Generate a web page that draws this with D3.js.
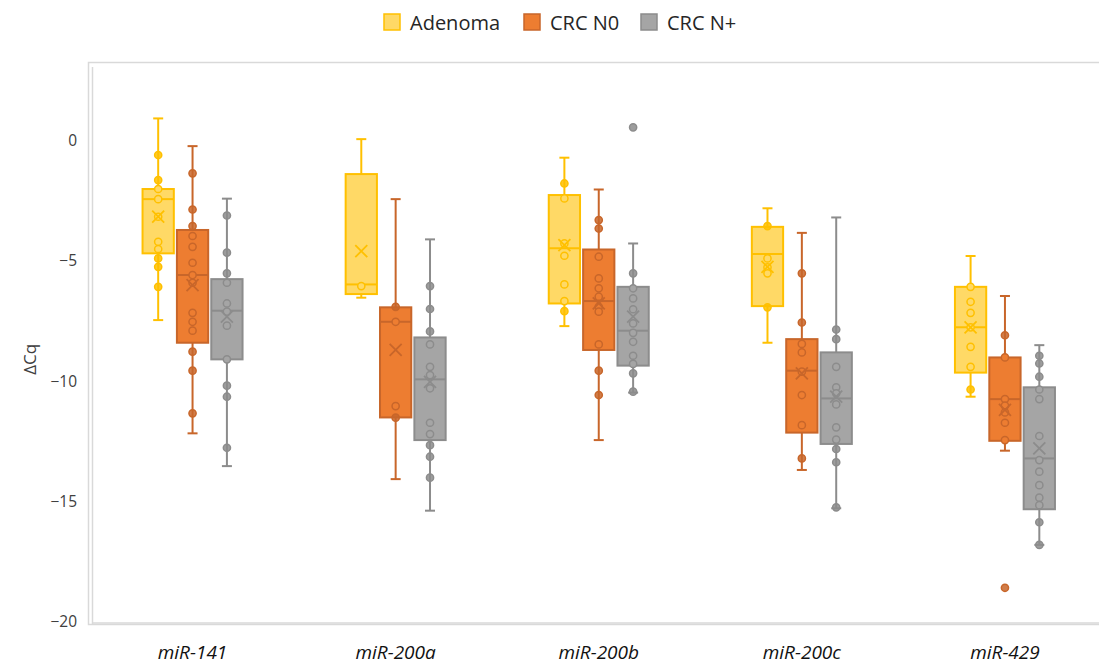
<!DOCTYPE html>
<html>
<head>
<meta charset="utf-8">
<script src="https://cdn.jsdelivr.net/npm/d3@7"></script>
<style>
  body { margin: 0; background: #fff; }
  svg { display: block; font-family: "Open Sans", "DejaVu Sans", sans-serif; }
</style>
</head>
<body>
<div id="chart"></div>
<script>
// Categories and series
const categories = ["miR-141", "miR-200a", "miR-200b", "miR-200c", "miR-429"];
const seriesNames = ["Adenoma", "CRC N0", "CRC N+"];
const yTicks = [0, -5, -10, -15, -20];

// Box stats per category: [whiskerLow, q1, median, q3, whiskerHigh, mean]
const adenomaStats = [
  [-7.47, -4.7, -2.45, -2.03, 0.9, -3.18],
  [-6.54, -6.39, -5.99, -1.41, 0.04, -4.61],
  [-7.72, -6.78, -4.49, -2.28, -0.73, -4.36],
  [-8.41, -6.89, -4.73, -3.6, -2.83, -5.26],
  [-10.65, -9.65, -7.77, -6.09, -4.81, -7.77]
];
const n0Stats = [
  [-12.17, -8.41, -5.6, -3.73, -0.25, -6.02],
  [-14.07, -11.51, -7.54, -6.94, -2.45, -8.71],
  [-12.45, -8.71, -6.68, -4.54, -2.05, -6.78],
  [-13.69, -12.14, -9.57, -8.26, -3.85, -9.68],
  [-12.89, -12.48, -10.75, -9.02, -6.47, -11.2]
];
const nPlusStats = [
  [-13.53, -9.1, -7.08, -5.77, -2.43, -7.33],
  [-15.38, -12.45, -9.93, -8.19, -4.12, -10.03],
  [-10.48, -9.36, -7.91, -6.09, -4.29, -7.33],
  [-15.28, -12.61, -10.72, -8.81, -3.21, -10.65],
  [-16.8, -15.32, -13.21, -10.26, -8.51, -12.79]
];

// Individual points per category (inner points + outliers)
const adenomaPoints = [
  [-0.62, -1.66, -2.03, -2.45, -3.18, -4.22, -4.52, -4.91, -5.26, -6.09],
  [-6.06],
  [-1.8, -2.42, -4.29, -4.8, -5.99, -6.68, -7.1],
  [-3.57, -4.91, -5.28, -5.53, -6.94],
  [-6.09, -6.71, -7.17, -7.77, -8.58, -9.41, -10.35]
];
const n0Points = [
  [-1.38, -2.88, -3.57, -3.98, -4.43, -5.09, -5.6, -5.92, -7.17, -7.54, -7.91, -8.78, -9.57, -11.34],
  [-6.92, -7.54, -11.04, -11.52],
  [-3.32, -3.67, -4.84, -5.74, -6.15, -6.5, -6.92, -7.12, -8.48, -9.57, -10.58],
  [-5.53, -7.57, -8.46, -8.81, -9.61, -10.58, -11.83, -13.21],
  [-8.1, -9.02, -10.75, -11.02, -11.3, -11.73, -12.45, -18.58]
];
const nPlusPoints = [
  [-3.13, -4.67, -5.53, -5.92, -6.78, -7.12, -7.7, -9.1, -10.19, -10.65, -12.77],
  [-6.06, -7.01, -7.94, -8.48, -9.41, -9.75, -10.3, -11.73, -12.2, -12.66, -13.14, -14.01],
  [0.53, -5.53, -6.15, -6.57, -7.02, -7.61, -8.0, -8.37, -8.95, -9.29, -9.68, -10.44],
  [-7.86, -8.26, -9.41, -10.26, -10.51, -10.97, -11.92, -12.43, -12.82, -13.37, -15.24],
  [-8.95, -9.27, -9.82, -10.35, -10.75, -12.28, -13.28, -13.76, -14.32, -14.84, -15.15, -15.86, -16.8]
];

const fills = ["#FFD966", "#ED7D31", "#A5A5A5"];
const strokes = ["#FFC000", "#C8662A", "#8C8C8C"];

const width = 1099, height = 666;
const plotLeft = 91, plotTop = 63, plotBottom = 623;
const step = 203.1;

const svg = d3.select("#chart").append("svg")
  .attr("width", width).attr("height", height)
  .attr("viewBox", [0, 0, width, height]);

const x = d3.scaleBand(categories, [plotLeft, plotLeft + step * categories.length]);
const xs = d3.scaleBand(seriesNames, [-50, 50]).paddingInner(0.09);
const y = d3.scaleLinear([-20, 3.2], [622, plotTop]);

// plot area frame
svg.append("rect")
  .attr("x", plotLeft - 2.5).attr("y", plotTop - 0.5)
  .attr("width", step * 5 + 10).attr("height", plotBottom - plotTop + 2)
  .attr("fill", "none").attr("stroke", "#d9d9d9").attr("stroke-width", 1.5);
svg.append("line")
  .attr("x1", plotLeft + 1.5).attr("x2", plotLeft + 1.5)
  .attr("y1", plotTop + 4).attr("y2", plotBottom + 1)
  .attr("stroke", "#d9d9d9").attr("stroke-width", 1.5);
svg.append("line")
  .attr("x1", plotLeft + 1.5).attr("x2", width)
  .attr("y1", plotBottom).attr("y2", plotBottom)
  .attr("stroke", "#d9d9d9").attr("stroke-width", 1.5);

// y axis
svg.append("g")
  .attr("transform", `translate(${plotLeft - 1},0)`)
  .call(d3.axisLeft(y).tickValues(yTicks).tickSize(0).tickPadding(13))
  .call(g => g.select(".domain").remove())
  .call(g => g.selectAll("text")
    .attr("font-size", 15.5).attr("fill", "#404040")
    .attr("font-family", "'Open Sans', sans-serif"));

svg.append("text")
  .attr("transform", `translate(36,${y(-9.1)}) rotate(-90)`)
  .attr("text-anchor", "middle")
  .attr("font-size", 17).attr("fill", "#404040")
  .text("ΔCq");

// x labels
svg.append("g")
  .selectAll("text")
  .data(categories)
  .join("text")
  .attr("x", d => x(d) + x.bandwidth() / 2)
  .attr("y", 659)
  .attr("text-anchor", "middle")
  .attr("font-size", 19)
  .attr("font-style", "italic")
  .attr("font-family", "'Open Sans', sans-serif")
  .attr("fill", "#111")
  .text(d => d);

const allStats = [adenomaStats, n0Stats, nPlusStats];
const allPoints = [adenomaPoints, n0Points, nPlusPoints];
const bw = xs.bandwidth();

seriesNames.forEach((s, si) => {
  const g = svg.append("g");
  categories.forEach((c, ci) => {
    const [lo, q1, med, q3, hi, mean] = allStats[si][ci];
    const cx = x(c) + x.bandwidth() / 2 + xs(s) + bw / 2;
    const gg = g.append("g");
    // whisker
    gg.append("line").attr("x1", cx).attr("x2", cx).attr("y1", y(hi)).attr("y2", y(lo))
      .attr("stroke", strokes[si]).attr("stroke-width", 2);
    [lo, hi].forEach(v => gg.append("line")
      .attr("x1", cx - 5).attr("x2", cx + 5).attr("y1", y(v)).attr("y2", y(v))
      .attr("stroke", strokes[si]).attr("stroke-width", 2));
    // box
    gg.append("rect")
      .attr("x", cx - bw / 2).attr("y", y(q3))
      .attr("width", bw).attr("height", y(q1) - y(q3))
      .attr("fill", fills[si]).attr("stroke", strokes[si]).attr("stroke-width", 2);
    gg.append("line").attr("x1", cx - bw / 2).attr("x2", cx + bw / 2)
      .attr("y1", y(med)).attr("y2", y(med))
      .attr("stroke", strokes[si]).attr("stroke-width", 2);
    // points
    gg.selectAll("circle")
      .data(allPoints[si][ci])
      .join("circle")
      .attr("cx", cx).attr("cy", d => y(d)).attr("r", 3.6)
      .attr("fill", d => (d > q3 || d < q1) ? strokes[si] : fills[si])
      .attr("fill-opacity", d => (d > q3 || d < q1) ? 0.85 : 1)
      .attr("stroke", strokes[si]).attr("stroke-width", 1.5);
    // mean marker
    const m = 6;
    gg.append("path")
      .attr("d", `M${cx - m},${y(mean) - m}L${cx + m},${y(mean) + m}M${cx - m},${y(mean) + m}L${cx + m},${y(mean) - m}`)
      .attr("stroke", strokes[si]).attr("stroke-width", 1.8).attr("fill", "none");
  });
});

// legend
const legendX = [384, 524, 641];
const legend = svg.append("g");
seriesNames.forEach((s, i) => {
  legend.append("rect")
    .attr("x", legendX[i]).attr("y", 14).attr("width", 16).attr("height", 16)
    .attr("fill", fills[i]).attr("stroke", strokes[i]).attr("stroke-width", 1.5);
  legend.append("text")
    .attr("x", legendX[i] + 26).attr("y", 30)
    .attr("font-size", 20).attr("fill", "#262626")
    .text(s);
});
</script>
</body>
</html>
